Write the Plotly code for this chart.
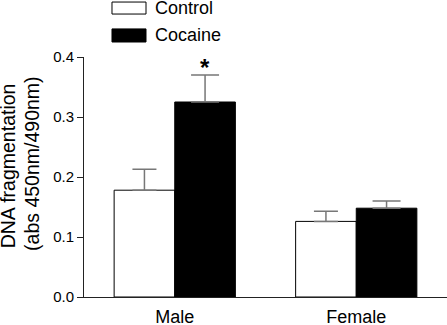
import plotly.graph_objects as go

groups = ["Male", "Female"]
control_vals = [0.178, 0.126]
control_err = [0.035, 0.017]
cocaine_vals = [0.325, 0.148]
cocaine_err = [0.045, 0.012]
y_ticks = [0.0, 0.1, 0.2, 0.3, 0.4]
y_tick_text = ["0.0", "0.1", "0.2", "0.3", "0.4"]

FONT = "Liberation Sans, Arial, Helvetica, sans-serif"
ERR_COLOR = "#777777"

fig = go.Figure()
fig.add_trace(go.Bar(
    name="Control", x=groups, y=control_vals,
    marker=dict(color="white", line=dict(color="black", width=1)),
    error_y=dict(type="data", array=control_err, arrayminus=[0, 0], symmetric=False,
                 color=ERR_COLOR, thickness=1.5, width=12),
    showlegend=False,
))
fig.add_trace(go.Bar(
    name="Cocaine", x=groups, y=cocaine_vals,
    marker=dict(color="black", line=dict(color="black", width=1)),
    error_y=dict(type="data", array=cocaine_err, arrayminus=[0, 0], symmetric=False,
                 color=ERR_COLOR, thickness=1.5, width=14),
    showlegend=False,
))

fig.update_layout(
    width=447, height=325,
    margin=dict(l=84, r=0, t=57, b=28, autoexpand=False),
    paper_bgcolor="white", plot_bgcolor="white",
    barmode="group", bargap=0.332, bargroupgap=0,
    font=dict(family=FONT, color="black"),
    xaxis=dict(range=[-0.5, 1.5], showline=True, linecolor="#222222", linewidth=1,
               ticks="", tickfont=dict(size=18, family=FONT, color="black"),
               showgrid=False, zeroline=False, ticklabelstandoff=3, automargin=False),
    yaxis=dict(range=[0, 0.4], tickvals=y_ticks, ticktext=y_tick_text,
               showline=True, linecolor="#222222", linewidth=1,
               ticks="outside", ticklen=6, tickcolor="#222222",
               tickfont=dict(size=15, family=FONT, color="black"),
               showgrid=False, zeroline=False, automargin=False),
)

# y-axis title as two rotated lines
fig.add_annotation(text="DNA fragmentation", xref="paper", yref="paper",
                   x=-0.209, y=0.545, xanchor="center", yanchor="middle",
                   textangle=-90, showarrow=False,
                   font=dict(size=19.5, family=FONT, color="black"))
fig.add_annotation(text="(abs 450nm/490nm)", xref="paper", yref="paper",
                   x=-0.145, y=0.556, xanchor="center", yanchor="middle",
                   textangle=-90, showarrow=False,
                   font=dict(size=19.5, family=FONT, color="black"))

# significance star above male cocaine bar
fig.add_annotation(text="<b>*</b>", x=groups[0], y=cocaine_vals[0] + cocaine_err[0],
                   xshift=30, yshift=-8, yanchor="bottom", showarrow=False,
                   font=dict(size=24, family=FONT, color="black"))

# custom legend
legend_items = [("Control", "white"), ("Cocaine", "black")]
legend_y = [(1.229, 1.179), (1.117, 1.0625)]
for (name, col), (y0, y1) in zip(legend_items, legend_y):
    fig.add_shape(type="rect", xref="paper", yref="paper",
                  x0=0.0771, x1=0.1708, y0=y1, y1=y0,
                  fillcolor=col, line=dict(color="black", width=1))
    fig.add_annotation(text=name, xref="paper", yref="paper",
                       x=0.19, y=(y0 + y1) / 2, xanchor="left", yanchor="middle",
                       showarrow=False, font=dict(size=18, family=FONT, color="black"))

fig.write_html("out.html", config={"displayModeBar": False},
               post_script="document.body.style.margin='0';document.body.style.overflow='hidden';")
